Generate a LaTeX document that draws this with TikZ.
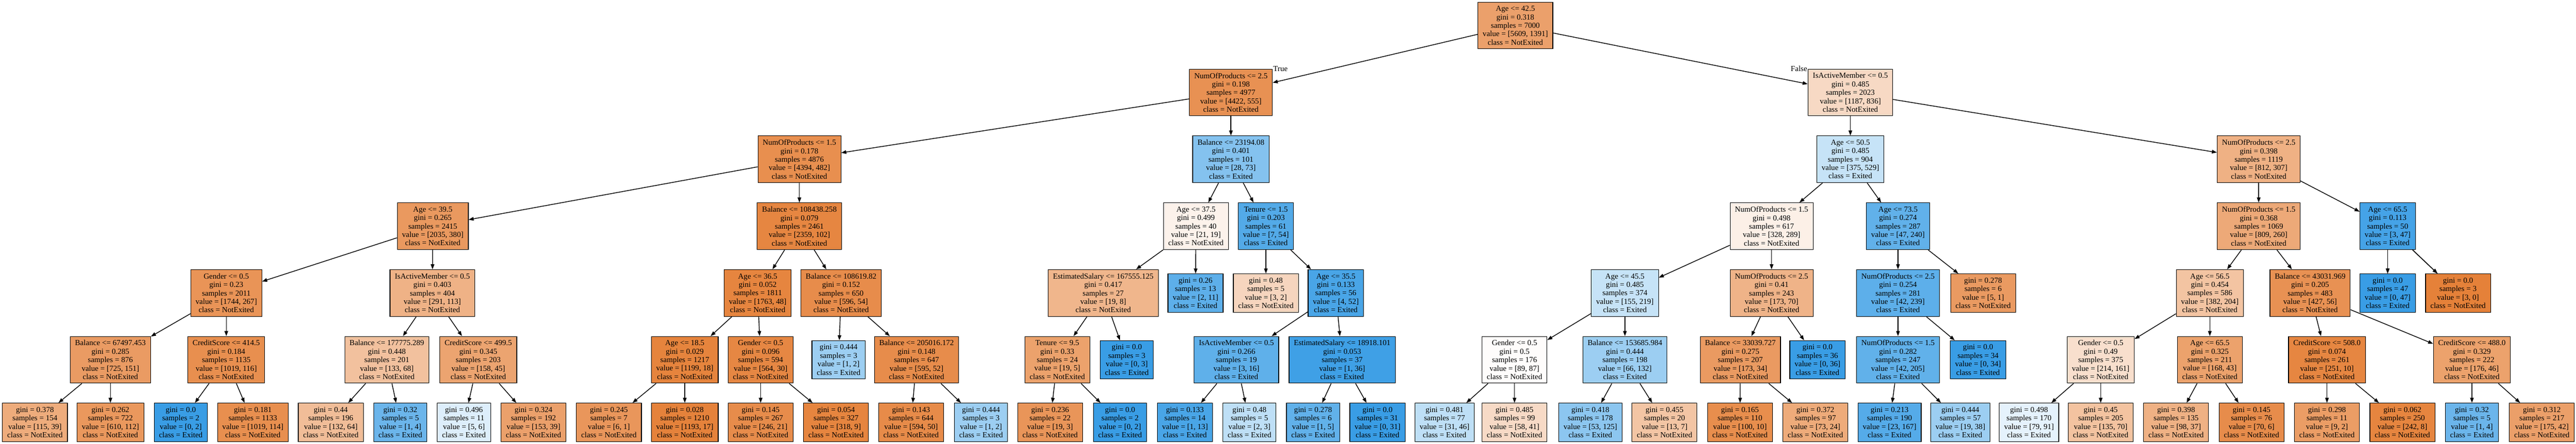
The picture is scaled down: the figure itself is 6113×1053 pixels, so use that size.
\documentclass[tikz,border=0pt]{standalone}
\usepackage{fontspec}
\setmainfont{Liberation Serif}
\usetikzlibrary{arrows.meta}
\definecolor{orx}{HTML}{E58139}
\definecolor{blx}{HTML}{399DE5}
\tikzset{
  dtbox/.style={draw=black, line width=0.8pt, align=center, inner xsep=6.5pt, inner ysep=1pt, minimum height=2.22cm},
  orbox/.style={dtbox, fill=orx!#1!white},
  blbox/.style={dtbox, fill=blx!#1!white},
  leaf/.style={minimum height=1.82cm},
  branch/.style={line width=1pt, -{Triangle[length=0.24cm, width=0.17cm]}},
  lbl/.style={inner sep=0.5pt}
}
\begin{document}
\begin{tikzpicture}[x=0.02cm, y=-0.02cm, font=\fontsize{10.5}{11.4}\selectfont]
\path[use as bounding box, fill=white] (0,0) rectangle (6113,1053);

% Root
\node[orbox=75] (t) at (3596,60.5) {Age <= 42.5\\gini = 0.318\\samples = 7000\\value = [5609, 1391]\\class = NotExited};

% Level 1
\node[orbox=87] (tL) at (2921,219.5) {NumOfProducts <= 2.5\\gini = 0.198\\samples = 4977\\value = [4422, 555]\\class = NotExited};
\node[orbox=30] (tR) at (4391,219.5) {IsActiveMember <= 0.5\\gini = 0.485\\samples = 2023\\value = [1187, 836]\\class = NotExited};
\node[lbl, anchor=west] (ltrue) at (tL.north east) {True};
\node[lbl, anchor=east] (lfalse) at (tR.north west) {False};

% Level 2
\node[orbox=89] (tLL) at (1897,378) {NumOfProducts <= 1.5\\gini = 0.178\\samples = 4876\\value = [4394, 482]\\class = NotExited};
\node[blbox=62] (tLR) at (2921,378) {Balance <= 23194.08\\gini = 0.401\\samples = 101\\value = [28, 73]\\class = Exited};
\node[blbox=29] (tRL) at (4391,378) {Age <= 50.5\\gini = 0.485\\samples = 904\\value = [375, 529]\\class = Exited};
\node[orbox=62] (tRR) at (5360,378) {NumOfProducts <= 2.5\\gini = 0.398\\samples = 1119\\value = [812, 307]\\class = NotExited};

% Level 3
\node[orbox=81] (tLLL) at (1027,537) {Age <= 39.5\\gini = 0.265\\samples = 2415\\value = [2035, 380]\\class = NotExited};
\node[orbox=96] (tLLR) at (1897,537) {Balance <= 108438.258\\gini = 0.079\\samples = 2461\\value = [2359, 102]\\class = NotExited};
\node[orbox=10] (tLRL) at (2838,537) {Age <= 37.5\\gini = 0.499\\samples = 40\\value = [21, 19]\\class = NotExited};
\node[blbox=87] (tLRR) at (3004,537) {Tenure <= 1.5\\gini = 0.203\\samples = 61\\value = [7, 54]\\class = Exited};
\node[orbox=12] (tRLL) at (4204,537) {NumOfProducts <= 1.5\\gini = 0.498\\samples = 617\\value = [328, 289]\\class = NotExited};
\node[blbox=80] (tRLR) at (4504,537) {Age <= 73.5\\gini = 0.274\\samples = 287\\value = [47, 240]\\class = Exited};
\node[orbox=68] (tRRL) at (5360,537) {NumOfProducts <= 1.5\\gini = 0.368\\samples = 1069\\value = [809, 260]\\class = NotExited};
\node[blbox=94] (tRRR) at (5666,537) {Age <= 65.5\\gini = 0.113\\samples = 50\\value = [3, 47]\\class = Exited};

% Level 4
\node[orbox=85] (tLLLL) at (537,695.5) {Gender <= 0.5\\gini = 0.23\\samples = 2011\\value = [1744, 267]\\class = NotExited};
\node[orbox=61] (tLLLR) at (1026,695.5) {IsActiveMember <= 0.5\\gini = 0.403\\samples = 404\\value = [291, 113]\\class = NotExited};
\node[orbox=97] (tLLRL) at (1798,695.5) {Age <= 36.5\\gini = 0.052\\samples = 1811\\value = [1763, 48]\\class = NotExited};
\node[orbox=91] (tLLRR) at (1996,695.5) {Balance <= 108619.82\\gini = 0.152\\samples = 650\\value = [596, 54]\\class = NotExited};
\node[orbox=58] (tLRLL) at (2618,695.5) {EstimatedSalary <= 167555.125\\gini = 0.417\\samples = 27\\value = [19, 8]\\class = NotExited};
\node[blbox=82, leaf] (tLRLR) at (2837,695.5) {gini = 0.26\\samples = 13\\value = [2, 11]\\class = Exited};
\node[orbox=33, leaf] (tLRRL) at (3004,695.5) {gini = 0.48\\samples = 5\\value = [3, 2]\\class = NotExited};
\node[blbox=92] (tLRRR) at (3170,695.5) {Age <= 35.5\\gini = 0.133\\samples = 56\\value = [4, 52]\\class = Exited};
\node[blbox=29] (tRLLL) at (3856,695.5) {Age <= 45.5\\gini = 0.485\\samples = 374\\value = [155, 219]\\class = Exited};
\node[orbox=60] (tRLLR) at (4204,695.5) {NumOfProducts <= 2.5\\gini = 0.41\\samples = 243\\value = [173, 70]\\class = NotExited};
\node[blbox=82] (tRLRL) at (4504,695.5) {NumOfProducts <= 2.5\\gini = 0.254\\samples = 281\\value = [42, 239]\\class = Exited};
\node[orbox=80, leaf] (tRLRR) at (4706,695.5) {gini = 0.278\\samples = 6\\value = [5, 1]\\class = NotExited};
\node[orbox=47] (tRRLL) at (5244,695.5) {Age <= 56.5\\gini = 0.454\\samples = 586\\value = [382, 204]\\class = NotExited};
\node[orbox=87] (tRRLR) at (5482,695.5) {Balance <= 43031.969\\gini = 0.205\\samples = 483\\value = [427, 56]\\class = NotExited};
\node[blbox=100, leaf] (tRRRL) at (5666,695.5) {gini = 0.0\\samples = 47\\value = [0, 47]\\class = Exited};
\node[orbox=100, leaf] (tRRRR) at (5833,695.5) {gini = 0.0\\samples = 3\\value = [3, 0]\\class = NotExited};

% Level 5
\node[orbox=79] (tLLLLL) at (262,854) {Balance <= 67497.453\\gini = 0.285\\samples = 876\\value = [725, 151]\\class = NotExited};
\node[orbox=89] (tLLLLR) at (537,854) {CreditScore <= 414.5\\gini = 0.184\\samples = 1135\\value = [1019, 116]\\class = NotExited};
\node[orbox=49] (tLLLRL) at (918,854) {Balance <= 177775.289\\gini = 0.448\\samples = 201\\value = [133, 68]\\class = NotExited};
\node[orbox=72] (tLLLRR) at (1135,854) {CreditScore <= 499.5\\gini = 0.345\\samples = 203\\value = [158, 45]\\class = NotExited};
\node[orbox=98] (tLLRLL) at (1625,854) {Age <= 18.5\\gini = 0.029\\samples = 1217\\value = [1199, 18]\\class = NotExited};
\node[orbox=95] (tLLRLR) at (1805,854) {Gender <= 0.5\\gini = 0.096\\samples = 594\\value = [564, 30]\\class = NotExited};
\node[blbox=50, leaf] (tLLRRL) at (1990,854) {gini = 0.444\\samples = 3\\value = [1, 2]\\class = Exited};
\node[orbox=91] (tLLRRR) at (2175,854) {Balance <= 205016.172\\gini = 0.148\\samples = 647\\value = [595, 52]\\class = NotExited};
\node[orbox=74] (tLRLLL) at (2509,854) {Tenure <= 9.5\\gini = 0.33\\samples = 24\\value = [19, 5]\\class = NotExited};
\node[blbox=100, leaf] (tLRLLR) at (2674,854) {gini = 0.0\\samples = 3\\value = [0, 3]\\class = Exited};
\node[blbox=81] (tLRRRL) at (2934,854) {IsActiveMember <= 0.5\\gini = 0.266\\samples = 19\\value = [3, 16]\\class = Exited};
\node[blbox=97] (tLRRRR) at (3185,854) {EstimatedSalary <= 18918.101\\gini = 0.053\\samples = 37\\value = [1, 36]\\class = Exited};
\node[orbox=2] (tRLLLL) at (3594,854) {Gender <= 0.5\\gini = 0.5\\samples = 176\\value = [89, 87]\\class = NotExited};
\node[blbox=50] (tRLLLR) at (3856,854) {Balance <= 153685.984\\gini = 0.444\\samples = 198\\value = [66, 132]\\class = Exited};
\node[orbox=80] (tRLLRL) at (4130,854) {Balance <= 33039.727\\gini = 0.275\\samples = 207\\value = [173, 34]\\class = NotExited};
\node[blbox=100, leaf] (tRLLRR) at (4313,854) {gini = 0.0\\samples = 36\\value = [0, 36]\\class = Exited};
\node[blbox=80] (tRLRLL) at (4504,854) {NumOfProducts <= 1.5\\gini = 0.282\\samples = 247\\value = [42, 205]\\class = Exited};
\node[blbox=100, leaf] (tRLRLR) at (4694,854) {gini = 0.0\\samples = 34\\value = [0, 34]\\class = Exited};
\node[orbox=25] (tRRLLL) at (4985,854) {Gender <= 0.5\\gini = 0.49\\samples = 375\\value = [214, 161]\\class = NotExited};
\node[orbox=74] (tRRLLR) at (5244,854) {Age <= 65.5\\gini = 0.325\\samples = 211\\value = [168, 43]\\class = NotExited};
\node[orbox=96] (tRRLRL) at (5522,854) {CreditScore <= 508.0\\gini = 0.074\\samples = 261\\value = [251, 10]\\class = NotExited};
\node[orbox=74] (tRRLRR) at (5866,854) {CreditScore <= 488.0\\gini = 0.329\\samples = 222\\value = [176, 46]\\class = NotExited};

% Level 6 (leaves)
\node[orbox=66, leaf] (tLLLLLL) at (83,1002.5) {gini = 0.378\\samples = 154\\value = [115, 39]\\class = NotExited};
\node[orbox=82, leaf] (tLLLLLR) at (262,1002.5) {gini = 0.262\\samples = 722\\value = [610, 112]\\class = NotExited};
\node[blbox=100, leaf] (tLLLLRL) at (429,1002.5) {gini = 0.0\\samples = 2\\value = [0, 2]\\class = Exited};
\node[orbox=89, leaf] (tLLLLRR) at (600,1002.5) {gini = 0.181\\samples = 1133\\value = [1019, 114]\\class = NotExited};
\node[orbox=52, leaf] (tLLLRLL) at (785,1002.5) {gini = 0.44\\samples = 196\\value = [132, 64]\\class = NotExited};
\node[blbox=75, leaf] (tLLLRLR) at (950,1002.5) {gini = 0.32\\samples = 5\\value = [1, 4]\\class = Exited};
\node[blbox=17, leaf] (tLLLRRL) at (1101,1002.5) {gini = 0.496\\samples = 11\\value = [5, 6]\\class = Exited};
\node[orbox=75, leaf] (tLLLRRR) at (1266,1002.5) {gini = 0.324\\samples = 192\\value = [153, 39]\\class = NotExited};
\node[orbox=83, leaf] (tLLRLLL) at (1445,1002.5) {gini = 0.245\\samples = 7\\value = [6, 1]\\class = NotExited};
\node[orbox=99, leaf] (tLLRLLR) at (1625,1002.5) {gini = 0.028\\samples = 1210\\value = [1193, 17]\\class = NotExited};
\node[orbox=91, leaf] (tLLRLRL) at (1805,1002.5) {gini = 0.145\\samples = 267\\value = [246, 21]\\class = NotExited};
\node[orbox=97, leaf] (tLLRLRR) at (1984,1002.5) {gini = 0.054\\samples = 327\\value = [318, 9]\\class = NotExited};
\node[orbox=92, leaf] (tLLRRRL) at (2162,1002.5) {gini = 0.143\\samples = 644\\value = [594, 50]\\class = NotExited};
\node[blbox=50, leaf] (tLLRRRR) at (2328,1002.5) {gini = 0.444\\samples = 3\\value = [1, 2]\\class = Exited};
\node[orbox=84, leaf] (tLRLLLL) at (2492,1002.5) {gini = 0.236\\samples = 22\\value = [19, 3]\\class = NotExited};
\node[blbox=100, leaf] (tLRLLLR) at (2658,1002.5) {gini = 0.0\\samples = 2\\value = [0, 2]\\class = Exited};
\node[blbox=92, leaf] (tLRRRLL) at (2812,1002.5) {gini = 0.133\\samples = 14\\value = [1, 13]\\class = Exited};
\node[blbox=33, leaf] (tLRRRLR) at (2965,1002.5) {gini = 0.48\\samples = 5\\value = [2, 3]\\class = Exited};
\node[blbox=80, leaf] (tLRRRRL) at (3116,1002.5) {gini = 0.278\\samples = 6\\value = [1, 5]\\class = Exited};
\node[blbox=100, leaf] (tLRRRRR) at (3269,1002.5) {gini = 0.0\\samples = 31\\value = [0, 31]\\class = Exited};
\node[blbox=33, leaf] (tRLLLLL) at (3428,1002.5) {gini = 0.481\\samples = 77\\value = [31, 46]\\class = Exited};
\node[orbox=29, leaf] (tRLLLLR) at (3594,1002.5) {gini = 0.485\\samples = 99\\value = [58, 41]\\class = NotExited};
\node[blbox=58, leaf] (tRLLLRL) at (3774,1002.5) {gini = 0.418\\samples = 178\\value = [53, 125]\\class = Exited};
\node[orbox=46, leaf] (tRLLLRR) at (3950,1002.5) {gini = 0.455\\samples = 20\\value = [13, 7]\\class = NotExited};
\node[orbox=90, leaf] (tRLLRLL) at (4129,1002.5) {gini = 0.165\\samples = 110\\value = [100, 10]\\class = NotExited};
\node[orbox=67, leaf] (tRLLRLR) at (4308,1002.5) {gini = 0.372\\samples = 97\\value = [73, 24]\\class = NotExited};
\node[blbox=86, leaf] (tRLRLLL) at (4484,1002.5) {gini = 0.213\\samples = 190\\value = [23, 167]\\class = Exited};
\node[blbox=50, leaf] (tRLRLLR) at (4652,1002.5) {gini = 0.444\\samples = 57\\value = [19, 38]\\class = Exited};
\node[blbox=13, leaf] (tRRLLLL) at (4815,1002.5) {gini = 0.498\\samples = 170\\value = [79, 91]\\class = Exited};
\node[orbox=48, leaf] (tRRLLLR) at (4985,1002.5) {gini = 0.45\\samples = 205\\value = [135, 70]\\class = NotExited};
\node[orbox=62, leaf] (tRRLLRL) at (5164,1002.5) {gini = 0.398\\samples = 135\\value = [98, 37]\\class = NotExited};
\node[orbox=91, leaf] (tRRLLRR) at (5343,1002.5) {gini = 0.145\\samples = 76\\value = [70, 6]\\class = NotExited};
\node[orbox=78, leaf] (tRRLRLL) at (5522,1002.5) {gini = 0.298\\samples = 11\\value = [9, 2]\\class = NotExited};
\node[orbox=97, leaf] (tRRLRLR) at (5701,1002.5) {gini = 0.062\\samples = 250\\value = [242, 8]\\class = NotExited};
\node[blbox=75, leaf] (tRRLRRL) at (5866,1002.5) {gini = 0.32\\samples = 5\\value = [1, 4]\\class = Exited};
\node[orbox=76, leaf] (tRRLRRR) at (6032,1002.5) {gini = 0.312\\samples = 217\\value = [175, 42]\\class = NotExited};

% Branches: every split node to its two children
\foreach \p in {t,tL,tR,tLL,tLR,tRL,tRR,tLLL,tLLR,tLRL,tLRR,tRLL,tRLR,tRRL,tRRR,%
tLLLL,tLLLR,tLLRL,tLLRR,tLRLL,tLRRR,tRLLL,tRLLR,tRLRL,tRRLL,tRRLR,tRRR,%
tLLLLL,tLLLLR,tLLLRL,tLLLRR,tLLRLL,tLLRLR,tLLRRR,tLRLLL,tLRRRL,tLRRRR,%
tRLLLL,tRLLLR,tRLLRL,tRLRLL,tRRLLL,tRRLLR,tRRLRL,tRRLRR}
  {\draw[branch] (\p) -- (\p L); \draw[branch] (\p) -- (\p R);}
\end{tikzpicture}
\end{document}
